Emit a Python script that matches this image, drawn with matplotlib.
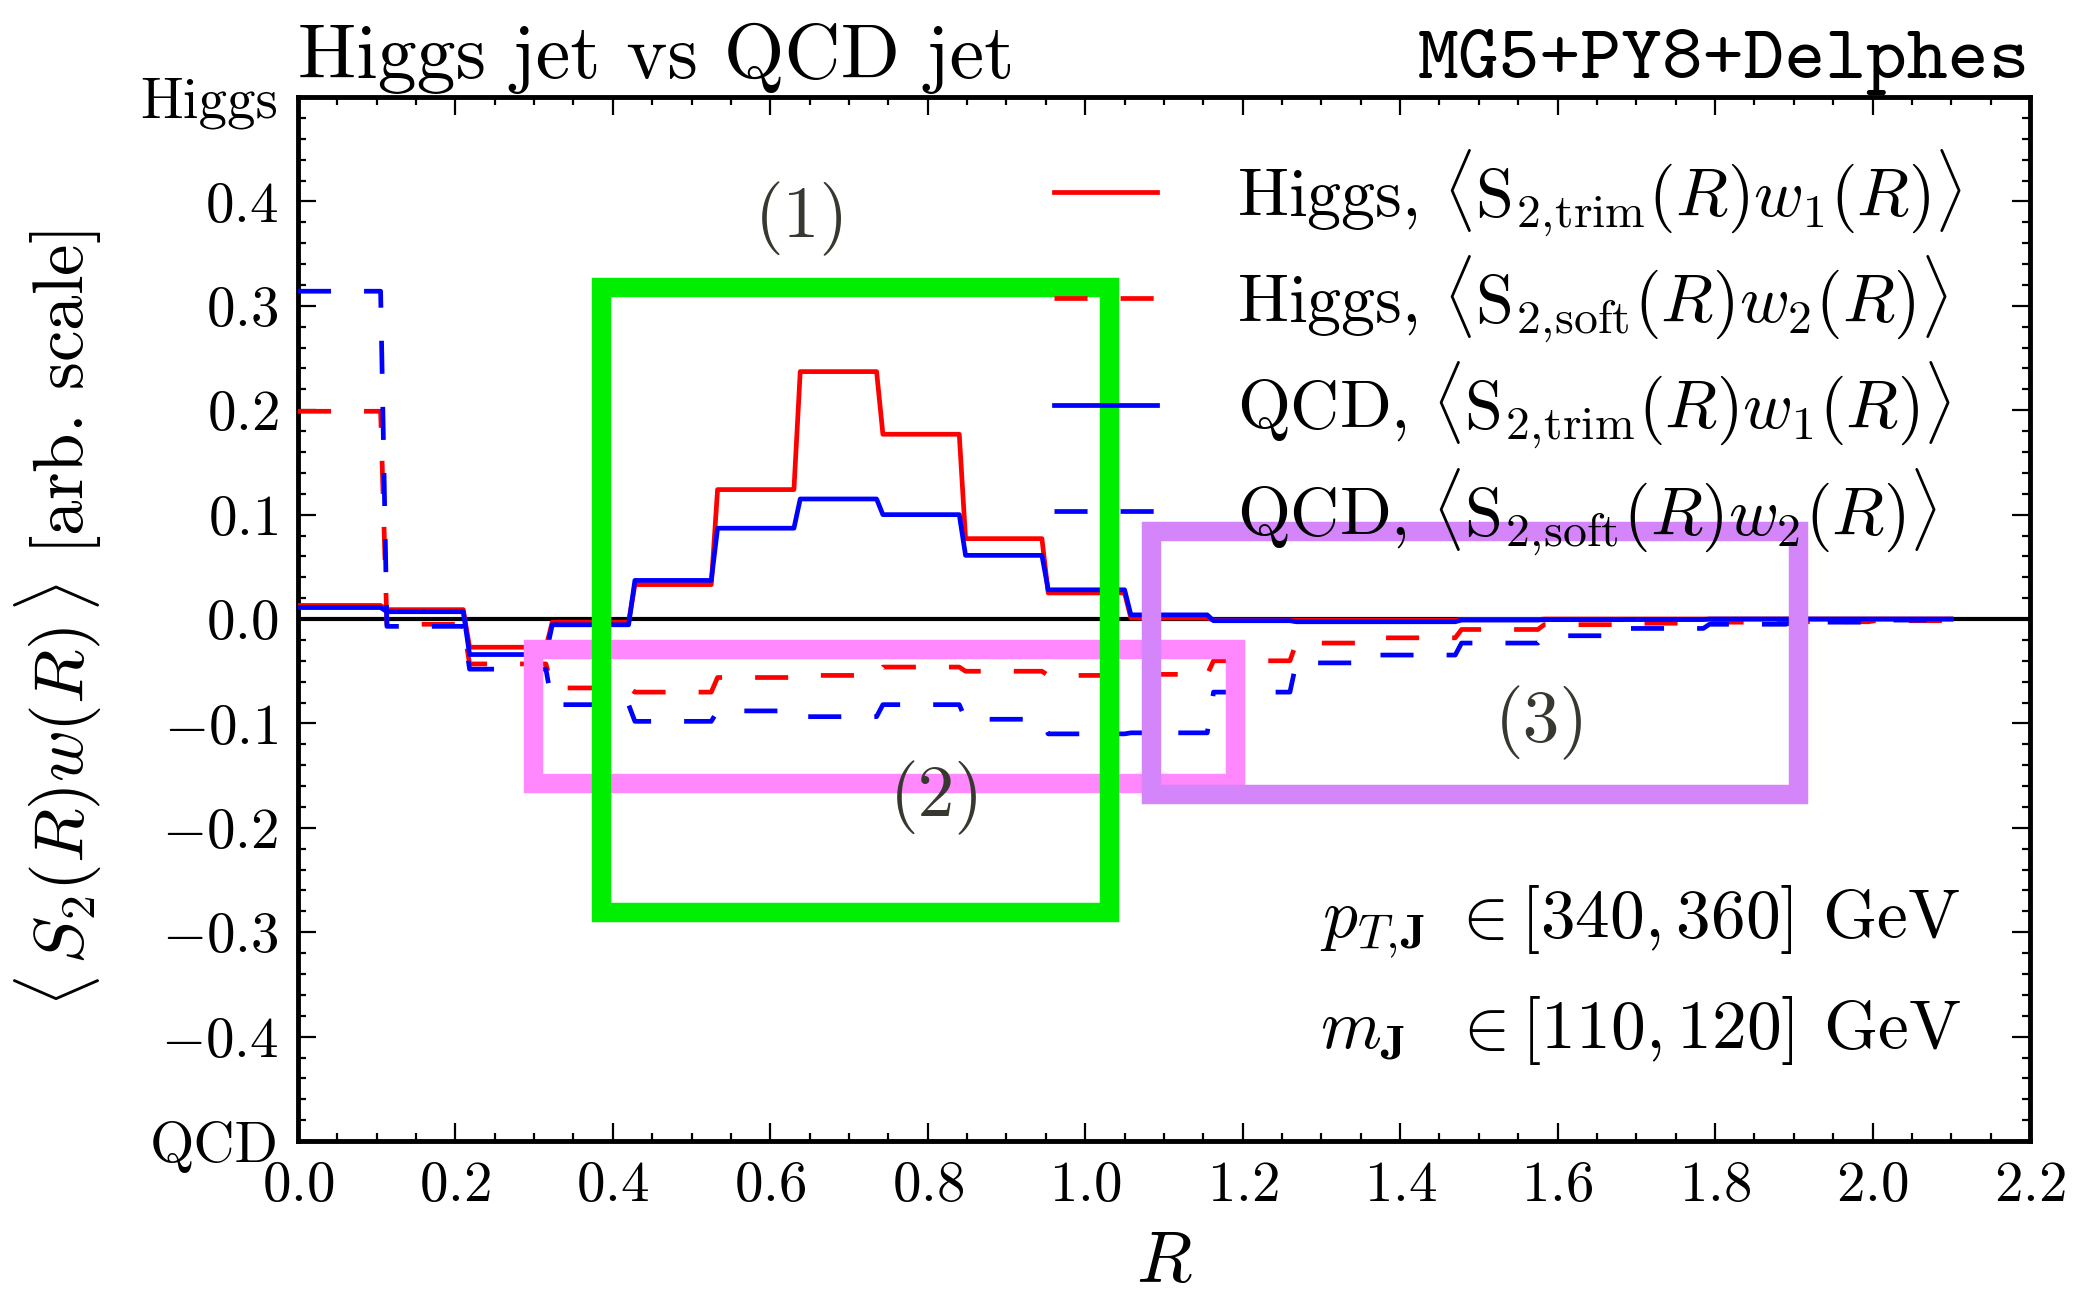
import numpy as np
import matplotlib
matplotlib.use('Agg')
import matplotlib.pyplot as plt
from matplotlib.patches import Rectangle
from matplotlib.ticker import MultipleLocator

plt.rcParams['font.family'] = 'serif'
plt.rcParams['font.serif'] = ['cmr10']
plt.rcParams['mathtext.fontset'] = 'cm'
plt.rcParams['axes.unicode_minus'] = False

# bin edges in R (20 bins of width 0.105)
R_edges = np.linspace(0.0, 2.1, 21)

higgs_trim = [0.013, 0.009, -0.027, -0.003, 0.033, 0.124, 0.237, 0.177, 0.077, 0.025,
              0.001, -0.001, -0.001, -0.001, -0.0005, 0.0, 0.0, 0.0, 0.0, 0.0]
higgs_soft = [0.199, -0.005, -0.043, -0.066, -0.070, -0.056, -0.054, -0.046, -0.050, -0.054,
              -0.053, -0.040, -0.023, -0.018, -0.010, -0.0054, -0.004, -0.003, -0.0026, -0.0016]
qcd_trim = [0.011, 0.007, -0.034, -0.0055, 0.037, 0.087, 0.115, 0.100, 0.061, 0.028,
            0.004, -0.0016, -0.0026, -0.0026, -0.001, -0.0006, -0.0005, 0.0, 0.0, 0.0]
qcd_soft = [0.314, -0.007, -0.048, -0.082, -0.098, -0.088, -0.0935, -0.082, -0.096, -0.110,
            -0.109, -0.070, -0.042, -0.0345, -0.023, -0.016, -0.009, -0.005, -0.003, -0.001]

labels = [r'Higgs, $\langle\mathrm{S}_{2,\!\mathrm{trim}}(R)w_1(R)\rangle$',
          r'Higgs, $\langle\mathrm{S}_{2,\!\mathrm{soft}}(R)w_2(R)\rangle$',
          r'QCD, $\langle\mathrm{S}_{2,\!\mathrm{trim}}(R)w_1(R)\rangle$',
          r'QCD, $\langle\mathrm{S}_{2,\!\mathrm{soft}}(R)w_2(R)\rangle$']

# boxes: (x0, y0, x1, y1, colour, tag, tag_x, tag_y)
boxes = [
    (0.299, -0.157, 1.19, -0.0287, '#ff88ff', '(2)', 0.812, -0.171),
    (1.084, -0.1675, 1.906, 0.0847, '#d585fa', '(3)', 1.58, -0.099),
    (0.385, -0.281, 1.03, 0.318, '#00ee00', '(1)', 0.64, 0.383),
]


def step_xy(vals, slant=0.008):
    xs = np.column_stack([R_edges[:-1] + slant, R_edges[1:]]).ravel()
    xs[0] = R_edges[0]
    ys = np.repeat(vals, 2)
    return xs, ys


fig = plt.figure(figsize=(20.85, 12.99), dpi=100)
ax = fig.add_axes([0.1429, 0.1216, 0.8307, 0.8037])

dash = (0, (7, 7))
for vals, col, ls, lab in [(higgs_trim, 'red', '-', labels[0]),
                           (higgs_soft, 'red', dash, labels[1]),
                           (qcd_trim, 'blue', '-', labels[2]),
                           (qcd_soft, 'blue', dash, labels[3])]:
    xs, ys = step_xy(vals)
    ax.plot(xs, ys, color=col, ls=ls, lw=3.4, label=lab, zorder=3)

ax.axhline(0, color='black', lw=3.0, zorder=2)

for x0, y0, x1, y1, col, tag, tx, ty in boxes:
    ax.add_patch(Rectangle((x0, y0), x1 - x0, y1 - y0, fill=False,
                           edgecolor=col, lw=14, zorder=4))
    ax.text(tx, ty, tag, fontsize=53, color='#383830', ha='center', va='center', zorder=5)

ax.set_xlim(0, 2.2)
ax.set_ylim(-0.5, 0.5)
ax.xaxis.set_major_locator(MultipleLocator(0.2))
ax.xaxis.set_minor_locator(MultipleLocator(0.05))
ax.yaxis.set_minor_locator(MultipleLocator(0.02))
yt = np.round(np.arange(-0.5, 0.51, 0.1), 1)
ytl = ['QCD'] + [f'${abs(v) if v == 0 else v:.1f}$' for v in yt[1:-1]] + ['Higgs']
ax.set_yticks(yt)
ax.set_yticklabels(ytl)
xt = np.round(np.arange(0, 2.21, 0.2), 1)
ax.set_xticks(xt)
ax.set_xticklabels([f'${v:.1f}$' for v in xt])

ax.tick_params(which='both', direction='in', top=True, right=True, labelsize=41, pad=14)
ax.tick_params(which='major', length=13, width=1.6)
ax.tick_params(which='minor', length=6, width=1.6)
for sp in ax.spines.values():
    sp.set_linewidth(3.5)

ax.set_xlabel(r'$R$', fontsize=52)
ax.xaxis.set_label_coords(0.5, -0.085)
ax.set_ylabel(r'$\langle\, S_2(R)w(R)\,\rangle$ [arb. scale]', fontsize=51)
ax.yaxis.set_label_coords(-0.112, 0.5)

ax.set_title('Higgs jet vs QCD jet', loc='left', fontsize=56, pad=14)
ax.set_title('MG5+PY8+Delphes', loc='right', fontsize=56, fontname='cmtt10', pad=14)

ax.legend(loc='upper left', bbox_to_anchor=(0.4365, 0.952), frameon=False, fontsize=49,
          handlelength=1.51, handletextpad=1.18, labelspacing=0.22,
          borderpad=0, borderaxespad=0)

ax.text(2.112, -0.29, r'$p_{T,\!\mathbf{J}}\ \in [340, 360]$ GeV', fontsize=50,
        ha='right', va='center')
ax.text(2.112, -0.394, r'$m_{\mathbf{J}}\ \ \in [110, 120]$ GeV', fontsize=50,
        ha='right', va='center')

plt.savefig('out.png', dpi=100)
plt.close()
